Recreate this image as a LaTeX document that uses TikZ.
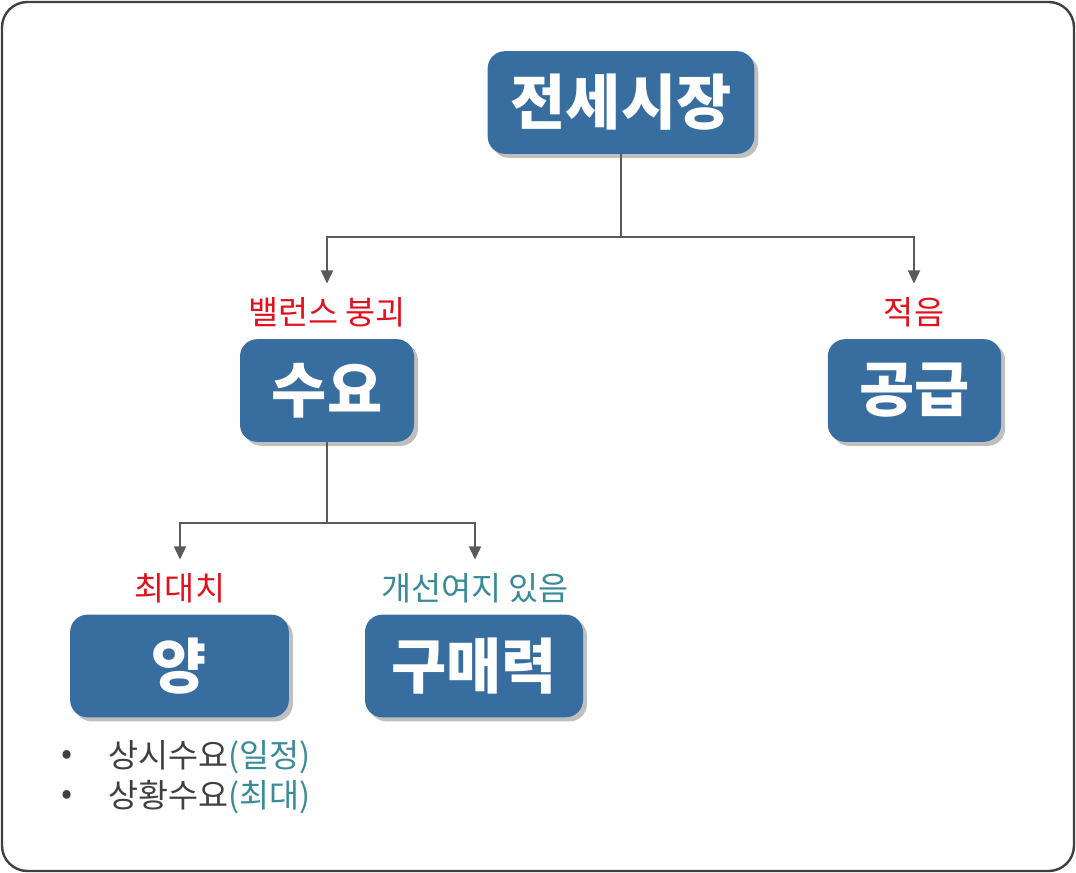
\documentclass[tikz,border=0pt]{standalone}
\usepackage{fontspec}
\setmainfont{Noto Sans CJK KR}
\usetikzlibrary{arrows.meta,shadows}
\definecolor{boxblue}{HTML}{386DA0}
\definecolor{notered}{HTML}{E2101C}
\definecolor{noteteal}{HTML}{3A8B98}
\definecolor{linegray}{HTML}{5A5A5E}
\definecolor{textgray}{HTML}{404040}
\tikzset{
  topic/.style={fill=boxblue, rounded corners=13pt, text=white, inner sep=0pt,
    font=\bfseries\fontsize{45}{45}\selectfont, minimum height=77pt,
    drop shadow={shadow xshift=3pt, shadow yshift=-3pt, fill=black, opacity=0.25}},
  note/.style={font=\fontsize{24.5}{24.5}\selectfont, inner sep=0pt},
  branch/.style={draw=linegray, line width=1.6pt, shorten >=10pt,
    -{Triangle[length=10pt,width=9pt]}}
}
\begin{document}
\begin{tikzpicture}[x=0.75pt,y=-0.75pt]
  \useasboundingbox (0,0) rectangle (1076,873);
  \draw[textgray, line width=1.8pt, rounded corners=19pt] (2,2) rectangle (1074,871); % frame
  % boxes
  \node[topic, minimum width=200pt] (market) at (621,102.5) {전세시장};
  \node[topic, minimum width=130.5pt] (demand) at (327,390.5) {수요};
  \node[topic, minimum width=130pt] (supply) at (914.5,390.5) {공급};
  \node[topic, minimum width=164pt] (amount) at (179.5,666) {양};
  \node[topic, minimum width=163.5pt] (power) at (474,666) {구매력};
  % notes above the boxes
  \node[note, text=notered] (demandnote) at (327,312) {밸런스 붕괴};
  \node[note, text=notered] (supplynote) at (914,312) {적음};
  \node[note, text=notered] (amountnote) at (180,588) {최대치};
  \node[note, text=noteteal] (powernote) at (475,588) {개선여지 있음};
  % branches
  \draw[branch] (market.south) -- ++(0,83) coordinate (marketsplit) -| (demandnote.north);
  \draw[branch] (marketsplit) -| (supplynote.north);
  \draw[branch] (demand.south) -- ++(0,81) coordinate (demandsplit) -| (amountnote.north);
  \draw[branch] (demandsplit) -| (powernote.north);
  % bullet list
  \foreach \y/\main/\extra in {757/상시수요/일정, 797/상황수요/최대}
  {
    \node[note, text=textgray] (dot\y) at (67,\y) {•};
    \node[note, text=textgray, anchor=west] (item\y) at (108,\y) {\main\textcolor{noteteal}{(\extra)}};
  }
\end{tikzpicture}
\end{document}
